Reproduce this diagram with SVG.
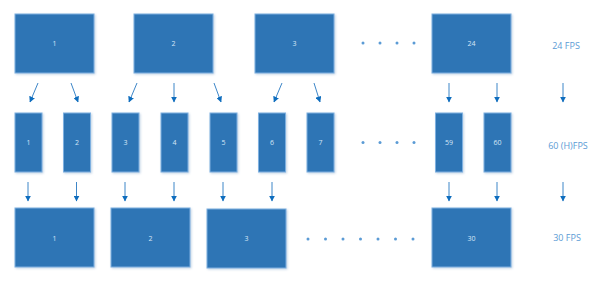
<svg xmlns="http://www.w3.org/2000/svg" width="600" height="285" viewBox="0 0 600 285">
<defs>
<marker id="ah" viewBox="0 0 10 10" refX="9" refY="5" markerWidth="6" markerHeight="6" markerUnits="userSpaceOnUse" orient="auto">
<path d="M0,0 L10,5 L0,10 z" fill="#0E6DBE"/>
</marker>
<filter id="sh" x="-10%" y="-10%" width="130%" height="130%">
<feDropShadow dx="1" dy="1" stdDeviation="1" flood-color="#9BB7D4" flood-opacity="0.6"/>
</filter>
</defs>
<style>
.b{fill:#2F74B5;stroke:#7EB0E0;stroke-width:1;filter:url(#sh)}
.t{font-family:"Open Sans","DejaVu Sans",sans-serif;font-size:7px;fill:#D6E6F7;text-anchor:middle}
.l{font-family:"Open Sans","DejaVu Sans",sans-serif;font-size:9px;fill:#5B9BD5;text-anchor:middle}
.a{stroke:#3D86C8;stroke-width:1;fill:none;marker-end:url(#ah)}
.d{fill:#5B9BD5}
</style>
<rect width="600" height="285" fill="#fff"/>
<g id="top">
<g id="t1"><rect class="b" x="15" y="14" width="79" height="59"/><text class="t" x="54.5" y="46">1</text></g>
<g id="t2"><rect class="b" x="134" y="14" width="79" height="59"/><text class="t" x="173.5" y="46">2</text></g>
<g id="t3"><rect class="b" x="255" y="14" width="79" height="59"/><text class="t" x="294.5" y="46">3</text></g>
<g id="t24"><rect class="b" x="432" y="14" width="79" height="59"/><text class="t" x="471.5" y="46">24</text></g>
</g>
<g id="mid">
<g id="m1"><rect class="b" x="15" y="113" width="27" height="59"/><text class="t" x="28.5" y="145">1</text></g>
<g id="m2"><rect class="b" x="63.5" y="113" width="27" height="59"/><text class="t" x="77" y="145">2</text></g>
<g id="m3"><rect class="b" x="112" y="113" width="27" height="59"/><text class="t" x="125.5" y="145">3</text></g>
<g id="m4"><rect class="b" x="161" y="113" width="27" height="59"/><text class="t" x="174.5" y="145">4</text></g>
<g id="m5"><rect class="b" x="210" y="113" width="27" height="59"/><text class="t" x="223.5" y="145">5</text></g>
<g id="m6"><rect class="b" x="258.5" y="113" width="27" height="59"/><text class="t" x="272" y="145">6</text></g>
<g id="m7"><rect class="b" x="307" y="113" width="27" height="59"/><text class="t" x="320.5" y="145">7</text></g>
<g id="m59"><rect class="b" x="435.5" y="113" width="27" height="59"/><text class="t" x="449" y="145">59</text></g>
<g id="m60"><rect class="b" x="484" y="113" width="27" height="59"/><text class="t" x="497.5" y="145">60</text></g>
</g>
<g id="bot">
<g id="b1"><rect class="b" x="15" y="208" width="79" height="59"/><text class="t" x="54.5" y="241">1</text></g>
<g id="b2"><rect class="b" x="111" y="208" width="79" height="59"/><text class="t" x="150.5" y="241">2</text></g>
<g id="b3"><rect class="b" x="207" y="209" width="79" height="59"/><text class="t" x="246.5" y="241">3</text></g>
<g id="b30"><rect class="b" x="432" y="208" width="79" height="59"/><text class="t" x="471.5" y="241">30</text></g>
</g>
<g id="labels">
<text class="l" x="566" y="49">24 FPS</text>
<text class="l" x="568" y="149">60 (H)FPS</text>
<text class="l" x="567" y="241">30 FPS</text>
</g>
<g id="dots">
<circle class="d" cx="363" cy="43" r="1.5"/><circle class="d" cx="380" cy="43" r="1.5"/><circle class="d" cx="397" cy="43" r="1.5"/><circle class="d" cx="414" cy="43" r="1.5"/>
<circle class="d" cx="363" cy="142.5" r="1.5"/><circle class="d" cx="380" cy="142.5" r="1.5"/><circle class="d" cx="397" cy="142.5" r="1.5"/><circle class="d" cx="414" cy="142.5" r="1.5"/>
<circle class="d" cx="308" cy="239" r="1.5"/><circle class="d" cx="325.5" cy="239" r="1.5"/><circle class="d" cx="343" cy="239" r="1.5"/><circle class="d" cx="360.5" cy="239" r="1.5"/><circle class="d" cx="378" cy="239" r="1.5"/><circle class="d" cx="395.5" cy="239" r="1.5"/><circle class="d" cx="413" cy="239" r="1.5"/>
</g>
<g id="connectors">
<line class="a" x1="38" y1="83" x2="30" y2="102"/>
<line class="a" x1="71" y1="83" x2="78" y2="102"/>
<line class="a" x1="137" y1="83" x2="129" y2="102"/>
<line class="a" x1="174" y1="83" x2="174" y2="102"/>
<line class="a" x1="214" y1="83" x2="221" y2="102"/>
<line class="a" x1="282" y1="83" x2="274" y2="102"/>
<line class="a" x1="314" y1="83" x2="320" y2="102"/>
<line class="a" x1="449" y1="83" x2="449" y2="102"/>
<line class="a" x1="497" y1="83" x2="497" y2="102"/>
<line class="a" x1="563" y1="83" x2="563" y2="102"/>
<line class="a" x1="28" y1="182" x2="28" y2="201"/>
<line class="a" x1="76.5" y1="182" x2="76.5" y2="201"/>
<line class="a" x1="125" y1="182" x2="125" y2="201"/>
<line class="a" x1="174" y1="182" x2="174" y2="201"/>
<line class="a" x1="223" y1="182" x2="223" y2="201"/>
<line class="a" x1="272" y1="182" x2="272" y2="201"/>
<line class="a" x1="449" y1="182" x2="449" y2="201"/>
<line class="a" x1="497" y1="182" x2="497" y2="201"/>
<line class="a" x1="563" y1="182" x2="563" y2="201"/>
</g>
</svg>
